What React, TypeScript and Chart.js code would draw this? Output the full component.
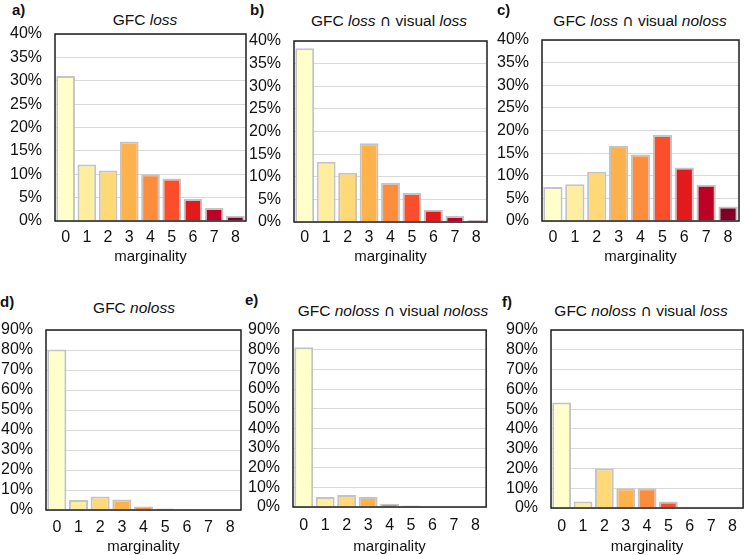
import React, { useEffect, useRef } from "react";
import { Chart, registerables } from "chart.js";

Chart.register(...registerables);

// marginality classes on the x axis
const categories = ["0", "1", "2", "3", "4", "5", "6", "7", "8"];

// share of cells (%) in each marginality class
const gfcLoss = [31.0, 12.1, 10.8, 17.0, 10.0, 9.1, 4.7, 2.8, 1.1];
const gfcLossVisualLoss = [38.4, 13.3, 10.9, 17.4, 8.7, 6.4, 2.7, 1.3, 0.4];
const gfcLossVisualNoloss = [7.5, 8.1, 10.9, 16.6, 14.7, 19.0, 11.8, 8.0, 3.2];
const gfcNoloss = [80.3, 5.0, 6.7, 5.2, 1.8, 0.8, 0.1, 0, 0];
const gfcNolossVisualNoloss = [81.2, 5.1, 6.1, 5.1, 1.7, 0.8, 0.3, 0, 0];
const gfcNolossVisualLoss = [53.3, 3.3, 20.0, 10.0, 10.0, 3.3, 0, 0, 0];

// y axis ranges for the two rows
const topRowMax = 40;
const topRowStep = 5;
const bottomRowMax = 90;
const bottomRowStep = 10;

// one colour per marginality class (yellow -> dark red)
const classColors = [
  "#ffffcc",
  "#ffeda0",
  "#fed976",
  "#feb24c",
  "#fd8d3c",
  "#fc4e2a",
  "#e31a1c",
  "#bd0026",
  "#800026",
];

const FONT = "'Liberation Sans', Arial, Helvetica, sans-serif";
const TEXT = "#111111";

type TitlePart = { text: string; italic?: boolean; symbol?: boolean };

type PanelSpec = {
  letter: string;
  letterX: number;
  letterY: number;
  title: TitlePart[];
  titleX: number;
  titleY: number;
  values: number[];
  yMax: number;
  yStep: number;
  plot: { l: number; t: number; r: number; b: number };
  tickY: number;
  axisTitleY: number;
};

const Y_AXIS_W = 48;
const Y_TICK_LINE_H = 20;
const LINE_H = 18;
const X_TICK_LINE_H = 20;

const framePlugin = {
  id: "plotFrame",
  afterDatasetsDraw(chart: Chart) {
    const { ctx, chartArea } = chart;
    ctx.save();
    ctx.strokeStyle = "#1e1e1e";
    ctx.lineWidth = 1.5;
    ctx.strokeRect(
      chartArea.left,
      chartArea.top,
      chartArea.right - chartArea.left,
      chartArea.bottom - chartArea.top
    );
    ctx.restore();
  },
};

function Panel({ spec }: { spec: PanelSpec }) {
  const ref = useRef<HTMLCanvasElement | null>(null);
  const { plot } = spec;
  const plotH = plot.b - plot.t;
  const xAxisH = spec.axisTitleY - plot.b + LINE_H / 2;
  const canvasLeft = plot.l - Y_AXIS_W;
  const width = plot.r - plot.l + Y_AXIS_W + 2;
  const guessTop = 20;
  const height = plotH + guessTop + xAxisH;
  const tickPad = spec.tickY - plot.b - X_TICK_LINE_H / 2;

  useEffect(() => {
    const canvas = ref.current;
    if (!canvas) return;
    const chart = new Chart(canvas, {
      type: "bar",
      data: {
        labels: categories,
        datasets: [
          {
            data: spec.values,
            backgroundColor: classColors,
            borderColor: "#c4c4c4",
            borderWidth: 2,
            barPercentage: 0.88,
            categoryPercentage: 1,
          },
        ],
      },
      options: {
        animation: false,
        responsive: false,
        maintainAspectRatio: false,
        layout: { padding: { top: 0, right: 2, left: 0, bottom: 0 } },
        plugins: {
          legend: { display: false },
          tooltip: { enabled: false },
          title: { display: false },
        },
        scales: {
          x: {
            grid: { display: false, drawTicks: false },
            border: { display: false },
            ticks: {
              color: TEXT,
              font: { family: FONT, size: 16, lineHeight: X_TICK_LINE_H / 16 },
              padding: tickPad,
              maxRotation: 0,
              autoSkip: false,
            },
            title: {
              display: true,
              text: "marginality",
              color: TEXT,
              font: { family: FONT, size: 15, lineHeight: LINE_H / 15 },
              padding: 0,
            },
            afterFit(scale: any) {
              scale.height = xAxisH;
            },
          },
          y: {
            min: 0,
            max: spec.yMax,
            grid: { color: "#d9d9d9", lineWidth: 1, drawTicks: false },
            border: { display: false },
            ticks: {
              stepSize: spec.yStep,
              autoSkip: false,
              color: TEXT,
              font: { family: FONT, size: 16, lineHeight: Y_TICK_LINE_H / 16 },
              padding: 13,
              callback: (v: any) => `${v}%`,
            },
            afterFit(scale: any) {
              scale.width = Y_AXIS_W;
            },
          },
        },
      },
      plugins: [framePlugin],
    });

    // place the canvas so that the plot area lands on its intended rectangle
    const off = Math.round(chart.chartArea.top);
    canvas.style.top = `${plot.t - off}px`;
    const needH = off + plotH + xAxisH;
    if (Math.abs(needH - chart.height) > 0.5) {
      chart.resize(width, needH);
    }
    return () => chart.destroy();
  }, []);

  return (
    <>
      <div
        style={{
          position: "absolute",
          left: spec.letterX,
          top: spec.letterY - LINE_H / 2,
          font: `bold 15px ${FONT}`,
          lineHeight: `${LINE_H}px`,
          color: TEXT,
        }}
      >
        {spec.letter}
      </div>
      <div
        style={{
          position: "absolute",
          left: spec.titleX,
          top: spec.titleY - LINE_H / 2,
          transform: "translateX(-50%)",
          whiteSpace: "nowrap",
          font: `15.5px ${FONT}`,
          lineHeight: `${LINE_H}px`,
          color: TEXT,
        }}
      >
        {spec.title.map((p, i) => (
          <span
            key={i}
            style={{
              fontStyle: p.italic ? "italic" : "normal",
              fontFamily: p.symbol ? "'DejaVu Sans', sans-serif" : FONT,
            }}
          >
            {p.text}
          </span>
        ))}
      </div>
      <canvas
        ref={ref}
        width={width}
        height={height}
        style={{
          position: "absolute",
          left: canvasLeft,
          top: plot.t - guessTop,
          width,
          height,
        }}
      />
    </>
  );
}

const CAP = "\u2229";

const panels: PanelSpec[] = [
  {
    letter: "a)",
    letterX: 12,
    letterY: 10,
    title: [{ text: "GFC " }, { text: "loss", italic: true }],
    titleX: 145,
    titleY: 20,
    values: gfcLoss,
    yMax: topRowMax,
    yStep: topRowStep,
    plot: { l: 55, t: 34, r: 246, b: 221 },
    tickY: 238,
    axisTitleY: 257,
  },
  {
    letter: "b)",
    letterX: 250,
    letterY: 10,
    title: [
      { text: "GFC " },
      { text: "loss", italic: true },
      { text: " " },
      { text: CAP, symbol: true },
      { text: " visual " },
      { text: "loss", italic: true },
    ],
    titleX: 389,
    titleY: 21,
    values: gfcLossVisualLoss,
    yMax: topRowMax,
    yStep: topRowStep,
    plot: { l: 294, t: 41, r: 487, b: 222 },
    tickY: 238,
    axisTitleY: 257,
  },
  {
    letter: "c)",
    letterX: 497,
    letterY: 10,
    title: [
      { text: "GFC " },
      { text: "loss", italic: true },
      { text: " " },
      { text: CAP, symbol: true },
      { text: " visual " },
      { text: "noloss", italic: true },
    ],
    titleX: 640,
    titleY: 21,
    values: gfcLossVisualNoloss,
    yMax: topRowMax,
    yStep: topRowStep,
    plot: { l: 542, t: 40, r: 739, b: 221 },
    tickY: 238,
    axisTitleY: 257,
  },
  {
    letter: "d)",
    letterX: 0,
    letterY: 302,
    title: [{ text: "GFC " }, { text: "noloss", italic: true }],
    titleX: 134,
    titleY: 308,
    values: gfcNoloss,
    yMax: bottomRowMax,
    yStep: bottomRowStep,
    plot: { l: 46, t: 330, r: 241, b: 510 },
    tickY: 528,
    axisTitleY: 547,
  },
  {
    letter: "e)",
    letterX: 245,
    letterY: 300,
    title: [
      { text: "GFC " },
      { text: "noloss", italic: true },
      { text: " " },
      { text: CAP, symbol: true },
      { text: " visual " },
      { text: "noloss", italic: true },
    ],
    titleX: 393,
    titleY: 311,
    values: gfcNolossVisualNoloss,
    yMax: bottomRowMax,
    yStep: bottomRowStep,
    plot: { l: 293, t: 330, r: 487, b: 507 },
    tickY: 526,
    axisTitleY: 547,
  },
  {
    letter: "f)",
    letterX: 502,
    letterY: 302,
    title: [
      { text: "GFC " },
      { text: "noloss", italic: true },
      { text: " " },
      { text: CAP, symbol: true },
      { text: " visual " },
      { text: "loss", italic: true },
    ],
    titleX: 641,
    titleY: 311,
    values: gfcNolossVisualLoss,
    yMax: bottomRowMax,
    yStep: bottomRowStep,
    plot: { l: 551, t: 330, r: 744, b: 508 },
    tickY: 527,
    axisTitleY: 547,
  },
];

export default function App() {
  return (
    <div
      style={{
        position: "fixed",
        left: 0,
        top: 0,
        width: 746,
        height: 555,
        background: "#ffffff",
        overflow: "hidden",
      }}
    >
      {panels.map((p) => (
        <Panel key={p.letter} spec={p} />
      ))}
    </div>
  );
}
